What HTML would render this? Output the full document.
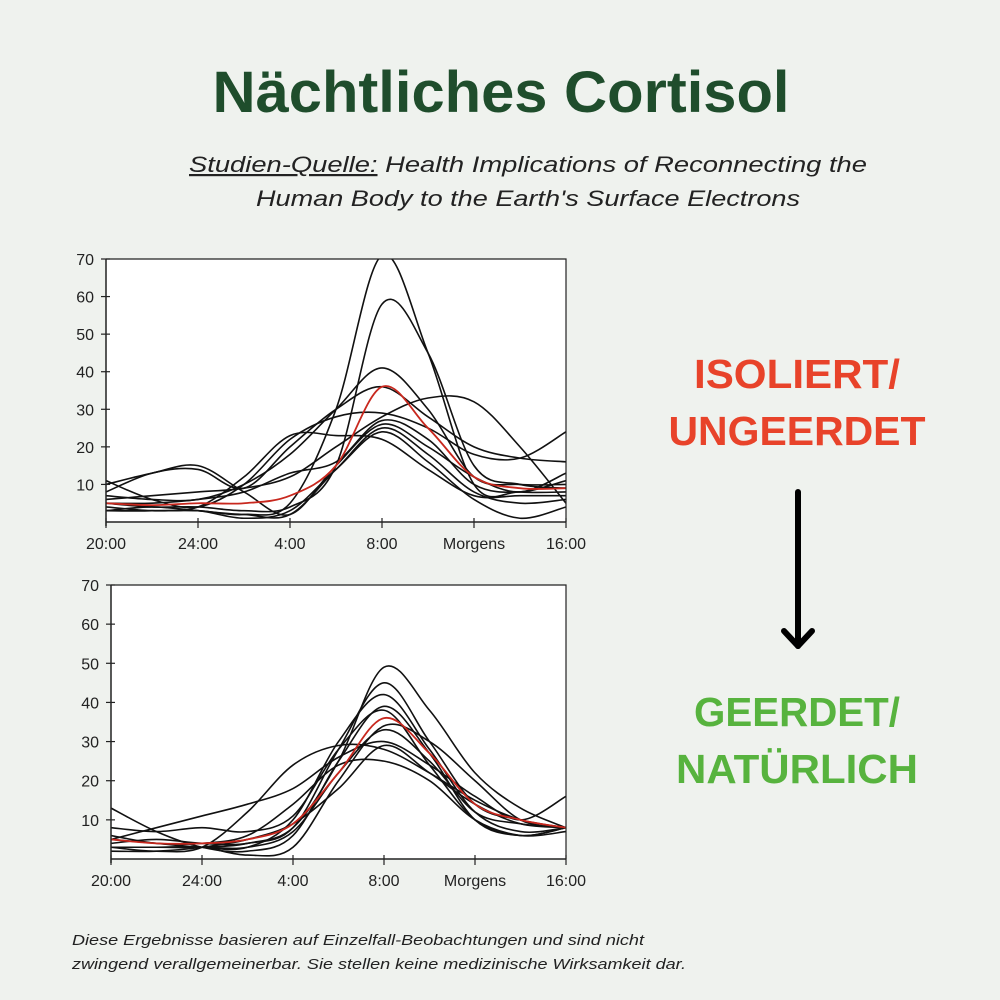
<!DOCTYPE html>
<html><head><meta charset="utf-8"><style>
body{margin:0;background:#eff2ee;}
svg{display:block}
</style></head><body>
<svg id="s" width="1000" height="1000" viewBox="0 0 1000 1000" xmlns="http://www.w3.org/2000/svg" font-family="Liberation Sans, sans-serif">
<rect width="1000" height="1000" fill="#eff2ee"/>
<text x="501" y="112" text-anchor="middle" font-size="58" font-weight="bold" fill="#1f4d2c" textLength="577" lengthAdjust="spacingAndGlyphs">Nächtliches Cortisol</text>
<text x="528" y="172" text-anchor="middle" font-size="22" font-style="italic" fill="#222" textLength="678" lengthAdjust="spacingAndGlyphs"><tspan text-decoration="underline">Studien-Quelle:</tspan> Health Implications of Reconnecting the</text>
<text x="528" y="206" text-anchor="middle" font-size="22" font-style="italic" fill="#222" textLength="544" lengthAdjust="spacingAndGlyphs">Human Body to the Earth's Surface Electrons</text>
<text x="797" y="388" text-anchor="middle" font-size="41" font-weight="bold" fill="#e8432a" textLength="206" lengthAdjust="spacingAndGlyphs">ISOLIERT/</text>
<text x="797" y="445" text-anchor="middle" font-size="41" font-weight="bold" fill="#e8432a" textLength="257" lengthAdjust="spacingAndGlyphs">UNGEERDET</text>
<text x="797" y="726" text-anchor="middle" font-size="41" font-weight="bold" fill="#57b33e" textLength="206" lengthAdjust="spacingAndGlyphs">GEERDET/</text>
<text x="797" y="783" text-anchor="middle" font-size="41" font-weight="bold" fill="#57b33e" textLength="242" lengthAdjust="spacingAndGlyphs">NATÜRLICH</text>
<line x1="798" y1="492" x2="798" y2="646" stroke="#000" stroke-width="6" stroke-linecap="round"/>
<polyline points="784,631 798,646 812,631" fill="none" stroke="#000" stroke-width="6" stroke-linecap="round" stroke-linejoin="round"/>
<text x="72" y="945" font-size="14.5" font-style="italic" fill="#222" textLength="572" lengthAdjust="spacingAndGlyphs">Diese Ergebnisse basieren auf Einzelfall-Beobachtungen und sind nicht</text>
<text x="72" y="969" font-size="14.5" font-style="italic" fill="#222" textLength="614" lengthAdjust="spacingAndGlyphs">zwingend verallgemeinerbar. Sie stellen keine medizinische Wirksamkeit dar.</text>
<g id="g"></g>
</svg>
<script>
var g=document.getElementById('g'),NS='http://www.w3.org/2000/svg';
function el(t,a,txt){var e=document.createElementNS(NS,t);for(var k in a)e.setAttribute(k,a[k]);if(txt!=null)e.textContent=txt;g.appendChild(e);return e;}
function chart(x0,x1,yTop,y0,curves,red){
 var sy=(y0-yTop)/70,sx=(x1-x0)/5;
 el('rect',{x:x0,y:yTop,width:x1-x0,height:y0-yTop,fill:'#fff'});
 var cp='c'+x0;var c=document.createElementNS(NS,'clipPath');c.setAttribute('id',cp);var r=document.createElementNS(NS,'rect');r.setAttribute('x',x0);r.setAttribute('y',yTop);r.setAttribute('width',x1-x0);r.setAttribute('height',y0-yTop);c.appendChild(r);g.appendChild(c);
 function path(v,col,w){var p=v.map(function(y,i){return [x0+i*sx/2,y0-y*sy];});
  var d='M'+p[0][0]+','+p[0][1];
  for(var i=0;i<p.length-1;i++){var a=p[i-1]||p[i],b=p[i],cc=p[i+1],dd=p[i+2]||cc;
   d+=' C'+(b[0]+(cc[0]-a[0])/6)+','+(b[1]+(cc[1]-a[1])/6)+' '+(cc[0]-(dd[0]-b[0])/6)+','+(cc[1]-(dd[1]-b[1])/6)+' '+cc[0]+','+cc[1];}
  el('path',{d:d,fill:'none',stroke:col,'stroke-width':w,'clip-path':'url(#'+cp+')'});}
 curves.forEach(function(v){path(v,'#111',1.6);});
 path(red,'#c8281e',1.8);
 el('polyline',{points:x0+','+yTop+' '+x1+','+yTop+' '+x1+','+y0,fill:'none',stroke:'#222','stroke-width':1.2});
 el('line',{x1:x0,y1:yTop,x2:x0,y2:y0+4,stroke:'#222','stroke-width':1.5});
 el('line',{x1:x0,y1:y0,x2:x1,y2:y0,stroke:'#222','stroke-width':1.5});
 for(var k=1;k<=7;k++){var y=y0-k*10*sy;el('line',{x1:x0-5,y1:y,x2:x0+4,y2:y,stroke:'#222','stroke-width':1.2});
  el('text',{x:x0-12,y:y+6,'text-anchor':'end','font-size':16,fill:'#222'},String(k*10));}
 var labs=['20:00','24:00','4:00','8:00','Morgens','16:00'];
 for(var i=0;i<6;i++){var x=x0+i*sx;el('line',{x1:x,y1:y0-4,x2:x,y2:y0+6,stroke:'#222','stroke-width':1.2});
  el('text',{x:x,y:y0+27,'text-anchor':'middle','font-size':16,fill:'#222'},labs[i]);}
}
chart(106,566,259,522,[
[3,3,3,2,5,30,71,45,10,8,8],
[5,4,4,3,4,15,58,45,15,10,9],
[7,6,6,10,18,30,41,30,12,10,10],
[8,13,14,9,20,30,36,28,20,17,16],
[11,6,4,10,22,28,29,25,18,17,24],
[6,7,8,9,12,20,28,33,32,20,5],
[10,13,15,8,2,15,26,20,12,8,13],
[3,4,3,2,2,14,25,18,8,5,6],
[4,3,3,1,3,14,24,16,6,1,4],
[3,3,4,12,23,23,22,14,7,7,7],
[5,5,6,8,13,16,27,22,10,8,11]
],[5,4.5,5,5,7,15,36,25,12,9,9]);
chart(111,566,585,859,[
[3,3,3,4,8,25,49,38,22,13,8],
[4,5,4,4,8,28,45,30,14,10,8],
[5,4,3,3,10,30,42,28,12,7,8],
[13,7,3,2,6,25,39,27,10,6,8],
[8,7,8,7,11,28,38,24,10,6,8],
[3,3,3,1,3,20,34,30,20,10,8],
[3,3,3,3,7,22,33,25,12,9,8],
[5,8,11,14,18,26,30,24,16,10,16],
[3,2,3,12,24,29,28,22,15,10,8],
[6,4,4,6,14,24,25,20,10,6,7],
[2,2,3,5,9,18,29,22,14,9,8]
],[5,4,4,5,9,22,36,27,14,10,8]);
</script>
</body></html>
